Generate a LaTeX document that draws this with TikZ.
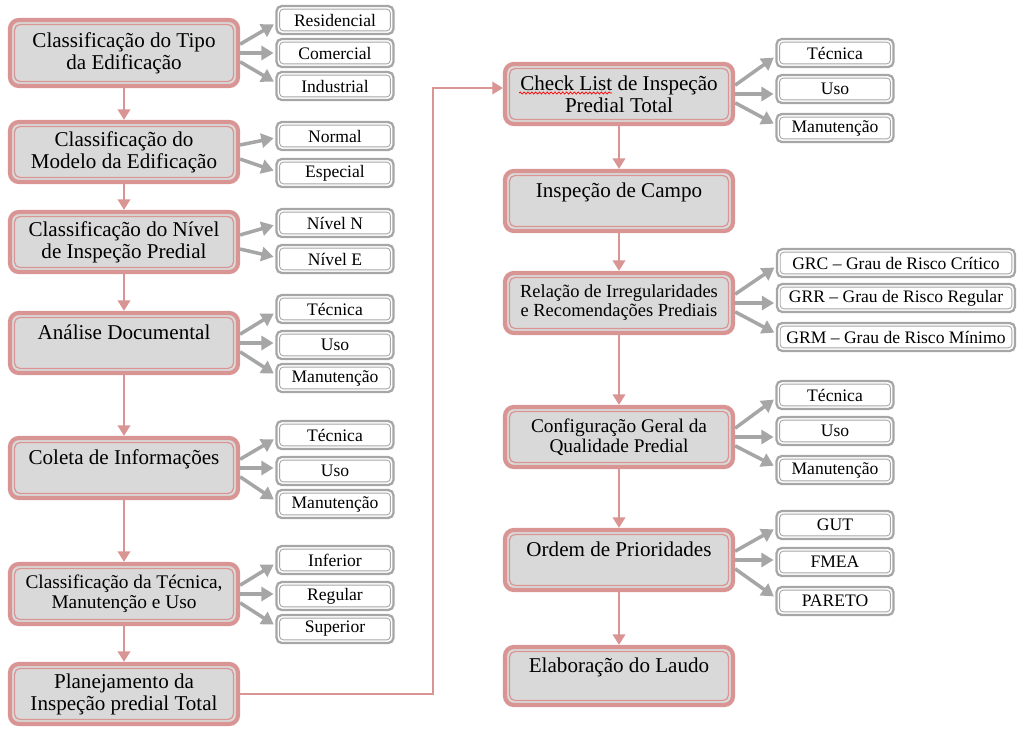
\documentclass[tikz,border=0pt]{standalone}
\usepackage{fontspec}
\setmainfont{Liberation Serif}
\usetikzlibrary{arrows.meta,decorations.pathmorphing}

\definecolor{boxred}{HTML}{D99594}
\definecolor{boxgray}{HTML}{D9D9D9}
\definecolor{subgray}{HTML}{A6A6A6}

\begin{document}
\begin{tikzpicture}[x=0.02cm, y=-0.02cm,
  mainbox/.style={draw=boxred, line width=2.4pt, fill=boxgray, rounded corners=5pt,
    minimum width=4.56cm, minimum height=1.2cm, align=center, inner sep=2pt,
    font=\fontsize{12}{12.6}\selectfont,
    path picture={\draw[boxred, line width=0.7pt, rounded corners=3pt]
      ([shift={(2.6pt,2.6pt)}]path picture bounding box.south west) rectangle
      ([shift={(-2.6pt,-2.6pt)}]path picture bounding box.north east);}},
  subbox/.style={draw=subgray, line width=1.3pt, fill=white, rounded corners=3pt,
    minimum width=2.34cm, minimum height=0.56cm, inner sep=1pt,
    font=\fontsize{10}{12}\selectfont,
    path picture={\draw[subgray, line width=0.5pt, rounded corners=2pt]
      ([shift={(1.8pt,1.8pt)}]path picture bounding box.south west) rectangle
      ([shift={(-1.8pt,-1.8pt)}]path picture bounding box.north east);}},
  widebox/.style={subbox, minimum width=4.76cm},
  mainarrow/.style={boxred, line width=1.6pt, -{Triangle[width=7pt,length=6pt]}},
  subarrow/.style={subgray, line width=2pt, -{Triangle[width=8pt,length=7pt]}, shorten >=1pt}]
\useasboundingbox (0,0) rectangle (1024,731);

% left column
\node[mainbox, minimum height=1.32cm] (tipo) at (124,53) {Classificação do Tipo\\da Edificação};
\node[mainbox] (modelo) at (124,152) {Classificação do\\Modelo da Edificação};
\node[mainbox] (nivel) at (124,242) {Classificação do Nível\\de Inspeção Predial};
\node[mainbox] (analise) at (124,343) {Análise Documental\\~};
\node[mainbox] (coleta) at (124,468) {Coleta de Informações\\~};
\node[mainbox, font=\fontsize{11}{11.4}\selectfont] (classif) at (124,594) {Classificação da Técnica,\\Manutenção e Uso};
\node[mainbox] (plan) at (124,694) {Planejamento da\\Inspeção predial Total};

\foreach \a/\b in {tipo/modelo, modelo/nivel, nivel/analise, analise/coleta, coleta/classif, classif/plan}
  \draw[mainarrow] (\a) -- (\b);

% left sub boxes
\node[subbox] (resid) at (335,20) {Residencial};
\node[subbox] (comer) at (335,53) {Comercial};
\node[subbox] (indus) at (335,86) {Industrial};
\node[subbox] (normal) at (335,136) {Normal};
\node[subbox] (espec) at (335,173) {Especial};
\node[subbox] (nivn) at (335,223) {Nível N};
\node[subbox] (nive) at (335,259) {Nível E};
\node[subbox] (tecA) at (335,309) {Técnica};
\node[subbox] (usoA) at (335,345) {Uso};
\node[subbox] (manA) at (335,378) {Manutenção};
\node[subbox] (tecB) at (335,435) {Técnica};
\node[subbox] (usoB) at (335,471) {Uso};
\node[subbox] (manB) at (335,504) {Manutenção};
\node[subbox] (infer) at (335,560) {Inferior};
\node[subbox] (regul) at (335,596) {Regular};
\node[subbox] (super) at (335,629) {Superior};

% right column
\node[mainbox] (check) at (619,94) {Check List de Inspeção\\Predial Total};
\node[mainbox] (campo) at (619,201) {Inspeção de Campo\\~};
\node[mainbox, font=\fontsize{10.5}{10.8}\selectfont] (relac) at (619,303) {Relação de Irregularidades\\e Recomendações Prediais};
\node[mainbox, font=\fontsize{11}{11.4}\selectfont] (config) at (619,437) {Configuração Geral da\\Qualidade Predial};
\node[mainbox] (ordem) at (619,560) {Ordem de Prioridades\\~};
\node[mainbox, minimum height=1.16cm] (laudo) at (619,676) {Elaboração do Laudo\\~};
\draw[red, line width=0.4pt, decorate, decoration={snake, amplitude=0.6pt, segment length=2.2pt}]
  (519,93) -- (612,93);

\foreach \a/\b in {check/campo, campo/relac, relac/config, config/ordem, ordem/laudo}
  \draw[mainarrow] (\a) -- (\b);

% right sub boxes
\node[subbox] (tecC) at (835,53) {Técnica};
\node[subbox] (usoC) at (835,89) {Uso};
\node[subbox] (manC) at (835,128) {Manutenção};
\node[widebox] (grc) at (896,263) {GRC – Grau de Risco Crítico};
\node[widebox] (grr) at (896,298) {GRR – Grau de Risco Regular};
\node[widebox] (grm) at (896,337) {GRM – Grau de Risco Mínimo};
\node[subbox] (tecD) at (835,395) {Técnica};
\node[subbox] (usoD) at (835,431) {Uso};
\node[subbox] (manD) at (835,470) {Manutenção};
\node[subbox] (gut) at (835,525) {GUT};
\node[subbox] (fmea) at (835,562) {FMEA};
\node[subbox] (pareto) at (835,601) {PARETO};

% side arrows
\foreach \m/\t/\c/\u in {tipo/resid/comer/indus, analise/tecA/usoA/manA, coleta/tecB/usoB/manB,
    classif/infer/regul/super, check/tecC/usoC/manC, relac/grc/grr/grm,
    config/tecD/usoD/manD, ordem/gut/fmea/pareto} {
  \draw[subarrow] ([yshift=5pt]\m.east) -- ([yshift=-2pt]\t.west);
  \draw[subarrow] (\m.east) -- (\m.east -| \c.west);
  \draw[subarrow] ([yshift=-5pt]\m.east) -- ([yshift=2pt]\u.west);
}
\foreach \m/\t/\u in {modelo/normal/espec, nivel/nivn/nive} {
  \draw[subarrow] ([yshift=4pt]\m.east) -- ([yshift=-1pt]\t.west);
  \draw[subarrow] ([yshift=-4pt]\m.east) -- ([yshift=1pt]\u.west);
}

% link to second column
\coordinate (bend) at (433,88);
\draw[mainarrow] (plan.east) -| (bend) -- (bend -| check.west);
\end{tikzpicture}
\end{document}
